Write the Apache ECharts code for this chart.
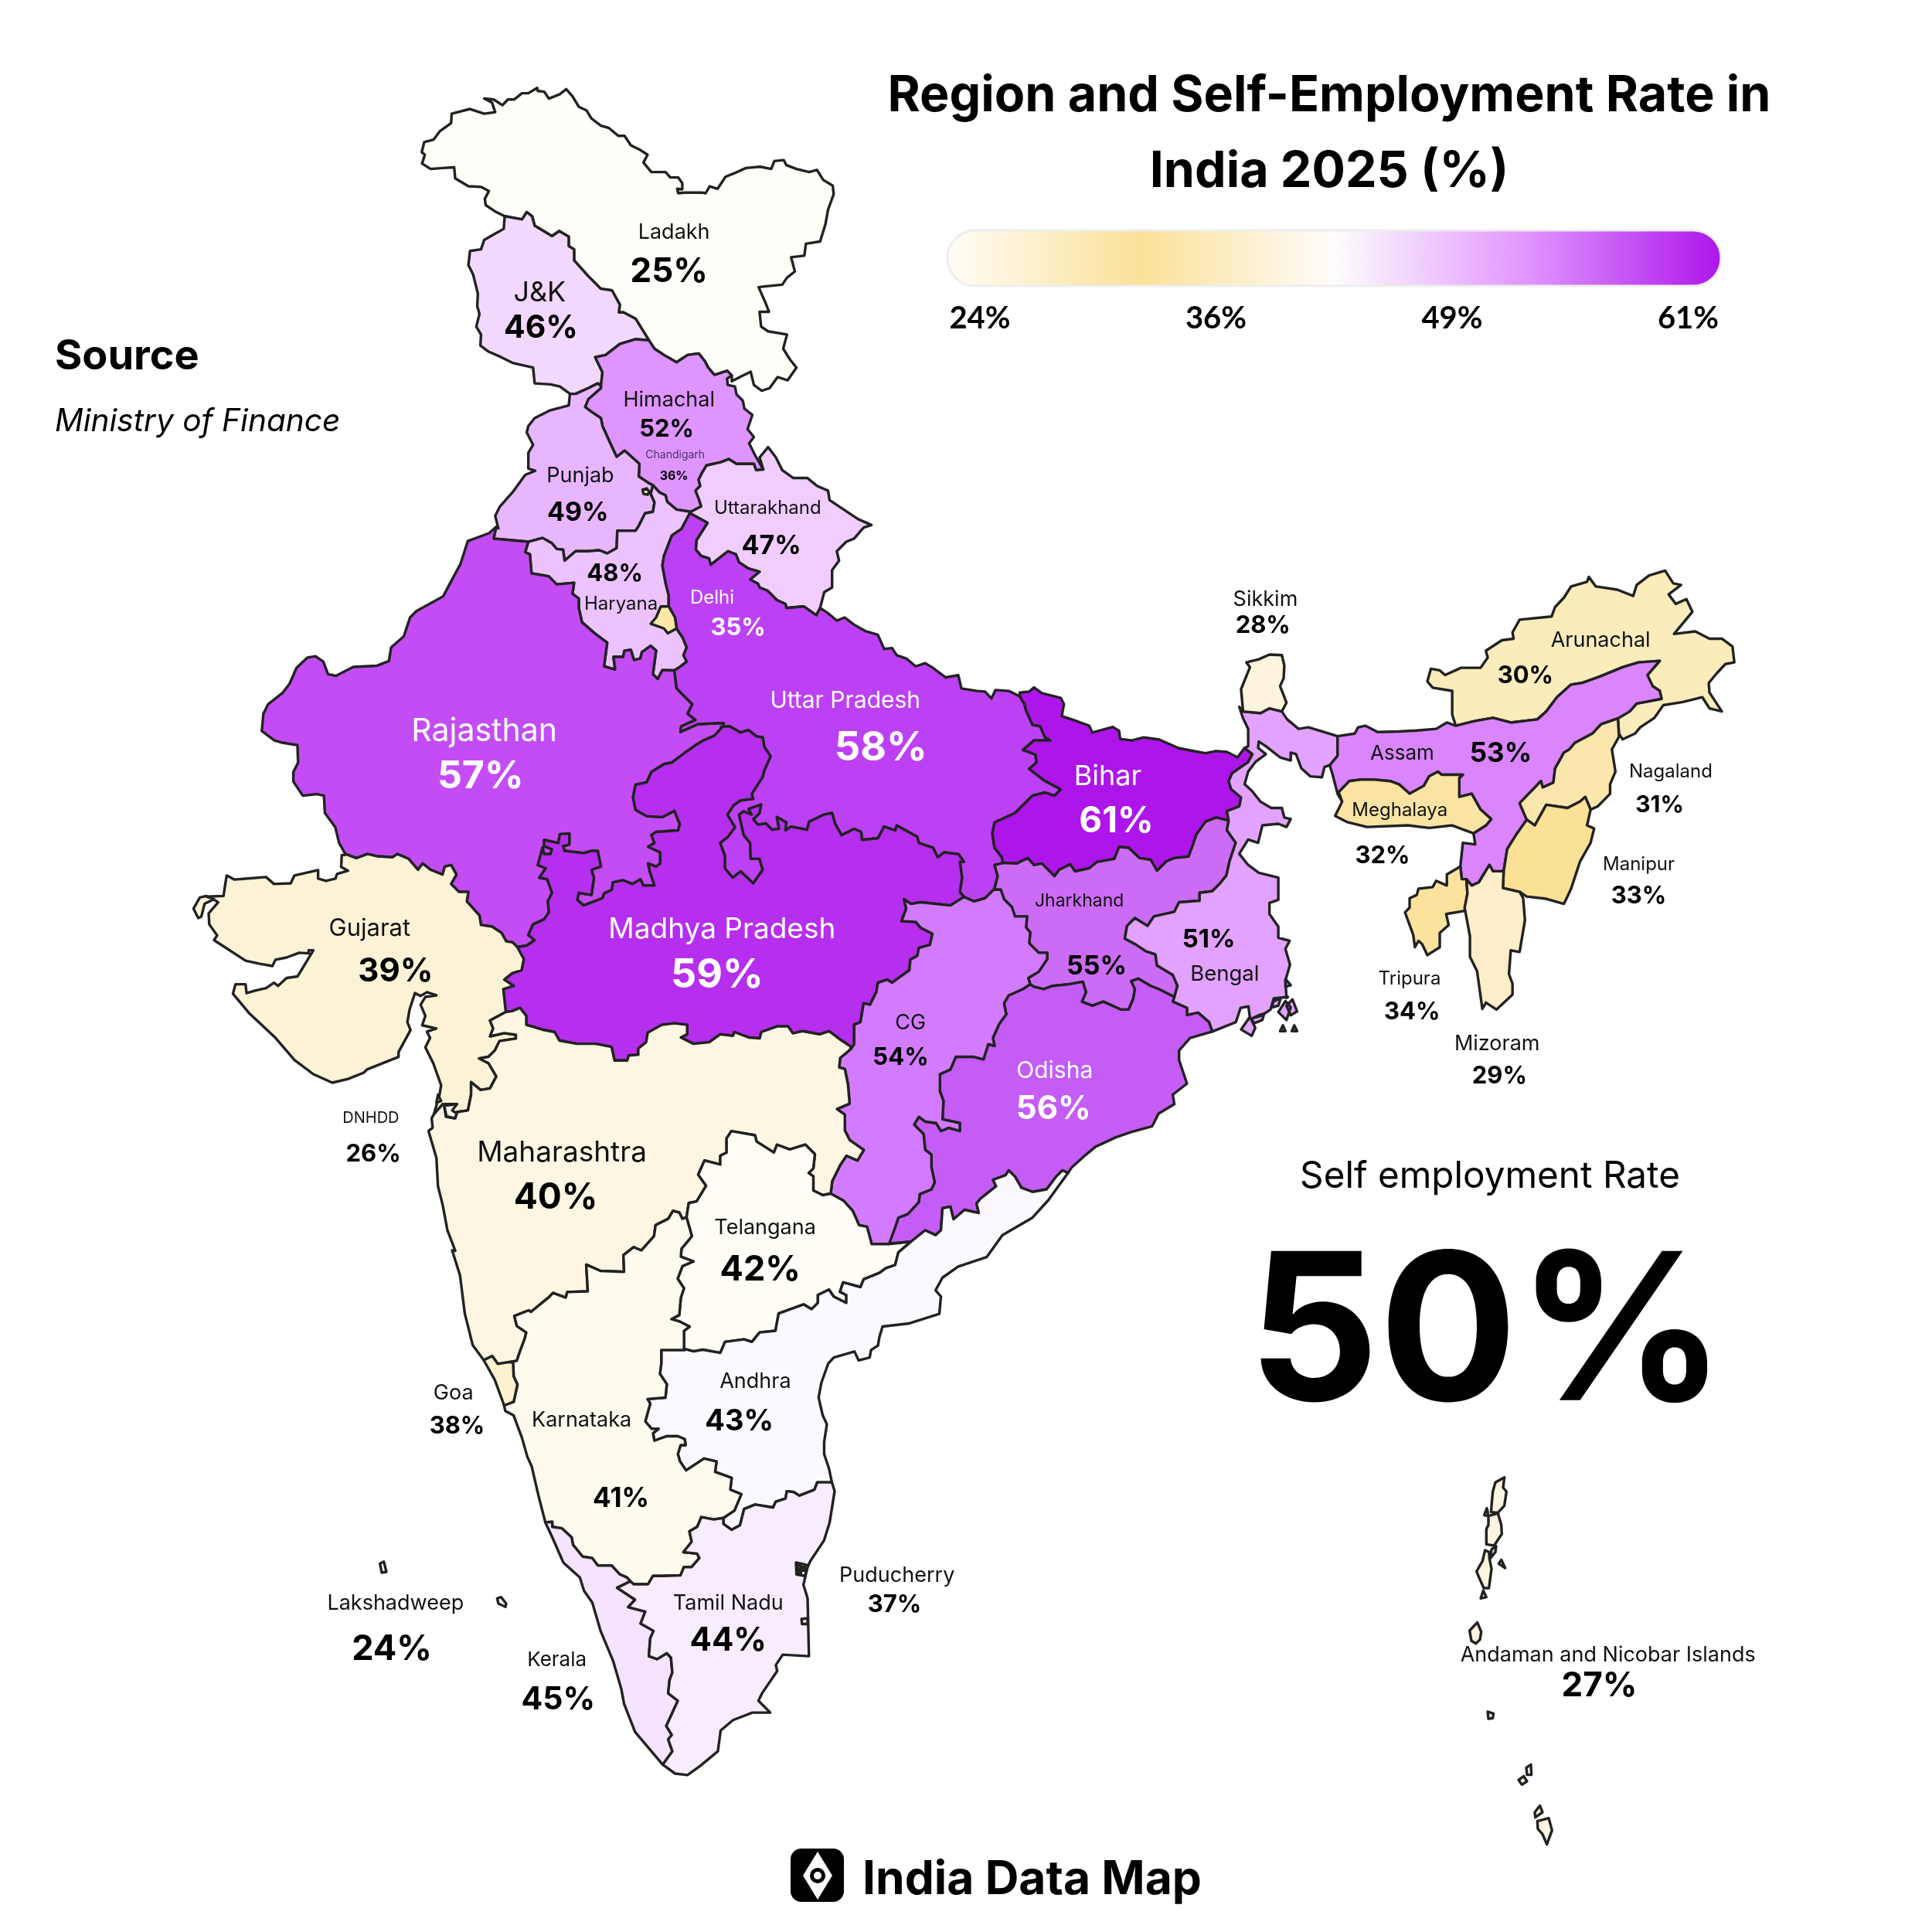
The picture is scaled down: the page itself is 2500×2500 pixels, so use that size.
<!DOCTYPE html>
<html lang="en">
<head>
<meta charset="UTF-8">
<title>Region and Self-Employment Rate in India 2025</title>
<script src="https://cdn.jsdelivr.net/npm/echarts@6/dist/echarts.min.js"></script>
<style>html,body{margin:0;background:#fff}#main{width:2500px;height:2500px}</style>
</head>
<body>
<div id="main"></div>
<script>
// values
const regions = ['Ladakh','J&K','Himachal','Chandigarh','Punjab','Uttarakhand','Haryana','Delhi','Rajasthan','Uttar Pradesh','Bihar','Madhya Pradesh','Gujarat','Jharkhand','Bengal','Odisha','CG','Maharashtra','Telangana','Andhra','Karnataka','Goa','Kerala','Tamil Nadu','Puducherry','Lakshadweep','DNHDD','Andaman and Nicobar Islands','Sikkim','Arunachal','Assam','Nagaland','Meghalaya','Manipur','Tripura','Mizoram'];
const rates = [25,46,52,36,49,47,48,35,57,58,61,59,39,55,51,56,54,40,42,43,41,38,45,44,37,24,26,27,28,30,53,31,32,33,34,29];
const legendTicks = [24,36,49,61];
const nationalRate = 50;

// colour for every whole percent from 24 to 61
const ramp = ['#fffefa','#fffdf7','#fefaf0','#fdf5df','#fcf4dc','#fdedc8','#fbecbc','#fbe7ae','#fbe4a3','#fbe196','#fbe29d','#fde6a6','#fce9b4','#fdedc2','#fdf1cf','#fcf2d6','#fdf6e2','#fefaee','#fffdf6','#fbf9ff','#f8edff','#f5e3ff','#f2d8ff','#f0ccff','#ecc3ff','#e8b6ff','#e6acff','#e3a2ff','#df95ff','#da85fd','#d37bfe','#cc6cf6','#c55cf6','#c34cf5','#bd41f4','#b62eee','#b122ec','#ad15ea'];
// the colour bar itself is a smoother five step ramp
const barRamp = ['#fffdf7','#fbe097','#fefdfb','#df95ff','#ad15ea'];

function crop(x0, y0, sx, sy) {
    return flat => {
        let pts = [];
        for (let k = 0; k < flat.length; k += 2) pts.push([x0 + flat[k] * sx, y0 + flat[k + 1] * sy]);
        return pts;
    };
}
const S = 640 / 1568;
const a = crop(500, 90, S, S), b = crop(300, 650, S, S), c = crop(840, 650, S, S);
const d = crop(1560, 720, 720 / 1568, 640 / 1563), e = crop(230, 1090, S, S), f = crop(1040, 1090, S, S);
const g = crop(530, 1320, S, S), h = crop(620, 1720, 560 / 1568, 600 / 1560);
const n = crop(1850, 1880, 1 / 3, 1 / 3), l = crop(230, 1700, 1 / 3, 1 / 3);
const rev = arc => arc.slice().reverse();

// shared borders
const ladakhOuter = a([375,465,345,450,315,430,312,410,325,385,300,372,260,370,218,345,215,310,180,312,140,315,113,298,122,270,112,262,120,230,150,222,170,195,205,170,207,140,265,125,310,140,345,135,335,105,310,92,340,95,368,113,385,95,405,95,430,75,450,75,478,58,480,68,500,70,515,92,550,78,570,62,590,85,610,118,635,130,650,155,680,178,705,185,735,210,755,210,775,240,805,255,828,270,815,295,840,325,885,325,900,342,925,342,938,360,938,380,922,378,925,392,945,390,1000,390,1012,392,1025,370,1050,378,1075,340,1100,330,1140,312,1185,308,1220,315,1230,290,1260,287,1268,303,1300,315,1340,325,1365,318,1385,350,1415,368,1418,395,1400,445,1392,490,1375,545,1330,552,1325,590,1283,595,1295,640,1270,660,1255,682,1205,687,1180,690,1200,735,1213,768,1183,768,1188,815,1210,830,1270,840,1258,885,1280,920,1300,945,1272,985,1240,975,1215,1010,1190,1018,1165,1000,1155,958,1130,970,1095,988]);
const hpLadakh = a([1095,970,1080,955,1040,968,1020,945,1010,925,990,900,955,905,920,928,880,905,850,885,832,858]);
const jkLadakh = a([832,858,790,790,752,770,737,770,740,745,715,700,680,695,640,655,595,605,595,570,578,560,578,530,548,512,525,528,470,495,462,465,445,452,430,475,375,465]);
const jkOuter = a([375,465,372,505,345,520,310,540,300,570,265,575,260,620,275,650,290,710,288,750,295,775,285,815,300,840,298,875,325,895,360,910,400,930,465,945,470,995,520,998,550,1005,582,1028]);
const jkPunjab = a([582,1028,600,1028,640,1010,670,995,680,1003]);
const jkHp = a([680,1003,685,960,662,912,695,905,740,870,790,855,832,858]);
const hpEast = a([1095,970,1080,980,1082,1000,1105,1005,1110,1030,1130,1050,1135,1075,1160,1095,1145,1140,1165,1165,1150,1185,1170,1225,1195,1268]);
const hpUk = a([1195,1268,1172,1270,1165,1250,1135,1250,1110,1250,1085,1235,1060,1245,1015,1255,1000,1280,990,1300,995,1320,980,1335,990,1360,998,1385,965,1402]);
const hpHar = a([965,1402,920,1395,890,1370,885,1350,865,1340,845,1318]);
const hpPunjab = a([845,1318,830,1310,800,1290,802,1250,755,1208,730,1228,710,1185,685,1130,680,1105,650,1085,630,1070,640,1045,680,1010,680,1003]);
const punjabWest = a([582,1028,578,1065,520,1080,470,1105,450,1130,445,1150,465,1190,450,1215,450,1265,472,1272,440,1285,400,1340,360,1385,345,1415,355,1455]);
const rajPunjab = b([838,78,830,115,940,125]);
const punjabHar = b([940,125,985,113,1015,130,1030,148,1050,150,1055,185,1090,155,1130,155,1165,152,1190,162,1220,145,1222,90,1280,90,1290,75,1310,35,1335,30,1340,0]).concat(a([838,1345,845,1318]));
const harUp = b([1450,38,1425,85,1395,105,1370,170,1365,200,1375,255,1385,295,1385,330,1405,365,1410,400,1430,430,1442,460,1432,485,1442,505,1420,522,1403,533]);
const harRaj = b([940,125,930,158,945,165,950,225,990,232,1005,235,1030,260,1085,255,1080,290,1100,305,1100,335,1110,380,1150,415,1190,445,1180,520,1215,530,1210,490,1240,490,1245,470,1265,468,1275,500,1295,495,1300,475,1328,455,1345,470,1335,545,1350,560,1365,532,1403,533]);
const rajOuter = b([360,1115,340,1080,328,1030,295,985,292,930,270,925,225,930,195,885,195,855,210,825,208,770,160,762,135,755,95,725,100,670,115,640,160,605,183,575,205,525,240,492,265,488,290,505,305,545,330,550,385,522,460,518,498,503,505,460,545,425,565,365,585,345,670,298,690,260,725,195,748,123,815,98,838,78]);
const rajUp = b([1403,533,1410,590,1430,610,1460,640,1445,670,1470,690,1425,710,1422,728,1478,703,1540,700,1560,700,1555,712]);
const rajMp = b([1555,712,1530,740,1495,755,1470,770,1435,795,1395,825,1370,830,1330,855,1315,888,1280,895,1272,935,1280,975,1315,995,1365,998,1403,978,1420,1020,1415,1040,1345,1045,1330,1055,1340,1080,1320,1092,1358,1110,1358,1145,1345,1155,1320,1145,1325,1170,1340,1215,1305,1215,1295,1195,1270,1210,1240,1198,1208,1205,1205,1228,1180,1240,1175,1255,1115,1278,1095,1260,1100,1238,1140,1245,1148,1190,1140,1165,1170,1155,1160,1105,1140,1105,1115,1112,1055,1105,1050,1090,1070,1085,1070,1050,1040,1052,1035,1080,990,1070,990,1090,1015,1100,1010,1115,990,1115,985,1095,970,1150,995,1160,975,1190,1000,1195,1015,1238,1002,1265,1005,1300,990,1322,955,1338,940,1372,960,1388,935,1405,905,1410]);
const rajGuj = b([905,1410,890,1395,870,1392,855,1365,825,1345,790,1340,785,1310,745,1265,750,1235,720,1235,695,1210,712,1180,695,1150,675,1155,668,1180,630,1165,605,1145,590,1165,560,1130,525,1115,510,1125,460,1122,430,1115,395,1128,360,1115]);
const ukOuter = a([1195,1268,1183,1230,1210,1197,1235,1230,1255,1270,1290,1295,1335,1295,1365,1320,1400,1335,1405,1365,1450,1395,1495,1425]).concat(c([705,72,680,80,650,115,625,125,595,155,602,185,580,215,580,270,555,285,542,335]));
const upUk = c([542,335,530,358,490,330,435,335,432,322,405,310,375,280,350,270,345,258,320,245,350,220,315,210,285,190,275,165,250,155,195,198,190,178,165,170,148,150,150,120,185,65,130,35]);
const upNorth = c([542,335,565,350,595,375,620,365,650,388,685,408,725,420,745,465,770,462,785,485,815,495,845,520,875,510,900,525,940,555,980,548,990,590,1040,598,1065,600,1085,622,1098,595,1140,598,1175,615]);
const upBihar = c([1175,615,1190,640,1195,660,1215,705,1240,710,1255,745,1272,755,1220,755,1185,785,1225,800,1228,825,1205,845,1250,880,1305,910,1285,930,1255,920,1215,930,1160,985,1095,1015,1088,1050,1095,1095,1118,1125,1122,1143]);
const upJhar = c([1122,1143,1095,1150,1105,1185,1095,1225]);
const upCg = c([1095,1225,1065,1255,1030,1265,1000,1252]);
const upMp = c([228,712,255,710,290,730,315,722,340,742,360,745,365,775,385,805,365,850,360,870,325,925,330,940,290,945,268,960,248,990,272,1030,250,1060,225,1080,240,1120,240,1160,265,1190,290,1170,330,1208,360,1165,350,1130,322,1130,320,1080,300,1055,285,990,300,980,325,990,315,972,355,958,350,985,330,1005,345,1022,370,1018,390,1038,412,1035,405,998,435,1015,432,1040,450,1028,500,1038,508,1012,555,990,580,985,590,1020,610,1055,650,1035,672,1045,675,1070,725,1065,745,1028,780,1040,785,1025,850,1060,855,1080,900,1095,915,1125,935,1110,980,1115,998,1140,985,1140,992,1190,985,1235,1000,1252]);
const biharNorth = c([1175,615,1175,603,1205,600,1220,587,1245,605,1305,620,1315,640,1308,678,1345,690,1395,708,1405,730,1470,712,1490,725,1493,750,1530,755,1568,745]).concat([[1500,957],[1525,968],[1545,972]], d([0,622,30,615,60,618,90,635,110,605]));
const biharWb = d([110,605,132,625,120,650,75,685,65,710,72,735,100,762,95,790,60,805,65,835]);
const biharJhar = c([1122,1143,1165,1145,1200,1128,1220,1150,1245,1145,1285,1185,1300,1165,1335,1148,1350,1170,1395,1160,1420,1140,1475,1130,1490,1092,1520,1095]).concat(f([1065,50,1100,55,1120,90,1150,60,1175,50,1220,45,1235,5,1245,-25]), d([0,838,30,825,65,835]));
const jharWb = d([65,835,60,865,85,905]).concat(f([1360,30,1350,60,1340,105,1320,130,1295,155,1255,160,1255,185,1190,190,1175,220,1110,235,1090,265,1050,240,1025,265,1018,305,1050,322,1085,345,1115,355,1120,390,1170,420,1185,455,1175,490]));
const jharOdisha = f([1175,490,1125,465,1100,455,1060,432,1038,440,1050,465,1045,495,1030,530,1005,530,950,505,915,518,882,505,895,475,885,442,840,450,790,455,760,465,730,458,718,450]);
const cgJhar = f([718,450,712,430,745,410,772,370,772,350,745,350,715,320,718,285,705,270,708,235,670,235,660,205,635,180,625,150,605,150]);
const wbOdisha = f([1175,490,1170,505,1215,525,1215,548,1250,540,1285,570,1295,600]);
const wbCoast = f([1295,600,1370,570,1385,525,1410,520,1415,560,1450,550,1480,530,1490,495,1535,490]).concat(d([228,1395,225,1340,238,1290,225,1240,237,1215,205,1205,205,1170,180,1130,180,1095,205,1085,205,1015,150,1000,120,975,95,940,120,895,148,905,160,850,205,845,228,855,240,830,222,825,215,795,185,795,155,775,130,740,110,720,120,680,140,650,170,625,148,605,150,585,170,600,210,635,240,645,240,620,255,625,270,670,295,695,328,698,335,665,350,660]));
const wbAssam = d([350,660,372,630,372,568]);
const wbNorth = d([372,568,335,555,290,540,262,545,230,515,215,490,180,480,155,495,105,490,95,475]);
const wbWest = d([95,475,105,510,120,545,120,600,110,605]);
const assamNorth = d([372,568,420,560,430,540,450,535,485,555,545,553,595,550,650,545,680,525,705,535]);
const assamAru = d([705,535,760,520,810,510,860,525,935,515,960,490,990,445,1030,405,1060,400,1110,380,1175,350,1220,335,1280,330,1245,375,1260,410,1280,425,1285,450,1215,465,1195,490,1162,512]);
const assamNag = d([1162,512,1115,530,1090,560,1040,590,1025,610,1010,620,985,670,980,715,950,730,945,710,885,780,905,832]);
const assamMan = d([905,832,875,880,850,925,840,995]);
const assamMiz = d([840,995,810,995,800,975,770,1030,750,1040,735,1020]);
const assamTri = d([735,1020,722,1020,718,980]);
const assamWest = d([718,980,725,905,760,910,755,875]);
const assamMeg = d([755,875,790,850,805,830,775,800,750,750,715,760,715,700,725,690,665,690,655,680,630,695,615,725,575,750,545,720,520,710,470,705,440,705,405,710,375,745,385,775]);
const assamWest2 = d([385,775,372,750,358,690,350,660]);
const nagMan = d([905,832,928,850,960,785,1020,795,1055,775,1070,760,1085,800]);
const gujMp = e([1076,332,1097,370,1090,405,1060,415,1035,435,1065,455,1032,465,1040,538]);
const gujMaha = e([1040,538,990,565,1000,590,990,615,1035,605,1072,610,1072,622,1020,630,1005,660,985,680,955,685,985,700,1010,742,990,780,960,785,930,760,930,800,920,850,885,855,880,875,850,870,845,835,885,830,840,830,812,862]);
const gujCoast = e([812,862,830,800,835,770,810,700,785,650,800,620,790,600,820,590,775,580,785,550,770,515,785,490,820,485,790,475,770,487,752,478,735,530,728,570,738,595,700,665,700,680,600,720,590,730,540,750,490,762,430,735,370,690,310,620,225,540,175,480,183,450,215,450,218,478,245,470,280,462,305,445,318,455,345,430,380,425,430,342,415,342,415,352,385,350,345,365,310,372,300,392,260,385,215,375,115,310,125,295,100,260,98,225,128,190,110,178,90,172,145,170,155,105,180,118,215,115,280,110,305,132,358,130,370,105,445,88,445,115,470,122,500,115,505,100,540,90,518,78,520,40,530,40]);
const mpMaha = g([1400,85,1370,65,1330,35,1300,45,1245,35,1215,42,1200,20,1165,20,1115,38,1110,58,1075,55,1030,38,1025,50,985,45,950,70,900,75,860,55,880,45,880,15,840,10,800,15,755,40,750,70,725,90,725,110,695,112,690,128,650,128,640,85,590,75,530,75,475,65,460,38,420,30,370,15]).concat(e([1105,550,1085,525,1060,535,1040,538]));
const mpCg = f([505,175,465,200,370,190,340,195,318,180,325,210,310,250,355,252,370,270,408,290,400,325,365,335,360,360,338,372,335,405,280,445,265,435,235,445,230,475,210,515,190,510,180,570,160,578,160,640,150,655]);
const mahaCoast = e([812,862,805,875,808,905,795,915,820,1000,825,1090,840,1150,855,1230,880,1295]).concat(g([135,730,160,810,175,930,200,1030,235,1078]));
const mahaGoa = g([235,1078,262,1065,280,1090,310,1085]);
const mahaKar = g([310,1085,340,1080,350,1050,365,1010,370,990,340,970,332,938,378,920,385,925,440,880,455,865,495,880,500,862,565,860,560,775,605,795,680,798,678,745,710,720,735,730,775,685,780,650,820,630,835,605,855,610,865,630,878,625]);
const mahaTel = g([878,625,885,580,910,575,940,525,915,490,935,445,985,458,985,430,1005,420,1005,375,1020,352,1095,365,1100,385,1155,420,1165,395,1205,410,1255,395,1285,425,1280,470,1265,485,1280,495,1280,540,1310,555,1335,550]);
const mahaCg = g([1335,550,1340,510,1365,460,1385,430,1420,445,1440,412,1395,380,1380,350,1380,300,1355,282,1395,265,1390,205,1380,155,1362,150,1365,120,1395,95,1400,85]);
const cgTel = g([1335,550,1375,572,1405,605,1425,650,1450,655,1465,710,1520,710]);
const cgOdisha = f([270,1272,290,1220,300,1190,330,1178,365,1140,368,1115,405,1100,415,1078,405,1030,405,990,385,975,380,925,350,895,365,870,385,885,420,890,435,915,460,905,495,915,495,890,440,878,443,820,432,790,432,735,465,720,482,680,540,680,570,688,585,640,605,645,600,620,620,575,642,545,635,510,650,485,695,465,718,450]);
const telOdisha = f([270,1272,340,1266]);
const odCoast = f([1295,600,1225,620,1190,660,1190,690,1215,765,1170,800,1175,830,1125,860,1105,900,1040,918,990,935,925,965,895,990,850,1030,838,1048]);
const odAp = f([838,1048,820,1040,800,1060,770,1100,725,1108,690,1095,670,1060,650,1040,640,1055,600,1070,610,1090,560,1130,548,1145,555,1175,510,1165,475,1195,465,1155,440,1160,435,1230,418,1245,385,1230,340,1266]);
const telAp = f([340,1266,300,1300,290,1340,260,1350,240,1365,190,1385,180,1410,125,1395,115,1425,135,1435,135,1460,95,1440,80,1418,45,1435,45,1460,25,1480,0,1465]).concat(g([1170,930,1160,985,1110,990,1085,1020,1060,1012,1000,1020,985,1055,930,1045,900,1050,870,1042]));
const telKar = g([870,1042,870,985,888,972,855,955,830,948,855,935,860,880,870,850,850,820,865,780,900,765,860,750,862,725,895,685,885,650,878,625]);
const apKar = h([745,70,660,70,660,115,655,150,680,185,675,230,610,235,620,250,602,310,625,335,650,335,630,350,635,375,680,360,720,360,745,370,748,390,730,390,720,420,728,445,750,475,815,435,860,445,855,480,915,500,910,540,950,555,925,610,885,635]);
const apTn = h([885,635,885,655,915,675,945,660,960,605,1000,590,1065,600,1075,580,1110,570,1115,545,1140,548,1160,560,1215,540,1225,515,1278,515]);
const apCoast = h([1278,515,1268,470,1250,420,1250,380,1260,320,1245,290,1230,230,1240,180,1265,115,1285,95,1360,75,1375,105,1415,95,1420,70,1445,55]).concat(f([240,1568,250,1535,335,1525,430,1495,435,1440,418,1420,440,1380,490,1345,580,1315,630,1245,725,1190,775,1135,838,1048]));
const karTn = h([885,635,850,640,805,632,790,665,762,680,770,715,740,750,790,755,798,770,770,800,742,800,730,828,665,830,630,830,612,858,560,858,548,848]);
const karKer = h([548,848,535,835,510,825,480,795,430,795,410,770,375,765,340,725,335,700,300,670,265,665,265,648,240,650]);
const karCoast = h([240,650,215,560,190,460,175,430,155,365,125,290,95,275,90,255]);
const goaKar = g([310,1085,328,1085,330,1130,342,1155,330,1210,300,1222]);
const kerCoast = h([240,650,265,700,305,785,365,835,380,880,410,920,440,1015,485,1115,515,1210,525,1260,565,1355,665,1465]);
const kerTn = h([665,1465,700,1420,685,1380,698,1365,678,1335,720,1250,685,1225,690,1180,700,1155,695,1105,680,1090,645,1110,615,1100,620,1040,632,1015,585,990,602,950,540,935,565,910,500,870,548,848]);
const tnCoast = h([1278,515,1288,545,1270,650,1250,710,1200,780,1190,800,1175,860,1190,905,1195,1100,1100,1095,1075,1130,1080,1150,1025,1225,1012,1250,1055,1290,990,1290,920,1315,875,1350,865,1420,800,1470,755,1500,710,1495,665,1465]);

// region outlines, each a list of rings
const shapes = {
    'Ladakh': [[ladakhOuter, hpLadakh, jkLadakh]],
    'J&K': [[jkOuter, jkPunjab, jkHp, jkLadakh]],
    'Himachal': [[hpEast, hpUk, hpHar, hpPunjab, jkHp, rev(hpLadakh)]],
    'Punjab': [[punjabWest, rajPunjab, punjabHar, hpPunjab, rev(jkPunjab)]],
    'Haryana': [[rev(hpHar), harUp, rev(harRaj), punjabHar]],
    'Uttarakhand': [[ukOuter, upUk, rev(hpUk)]],
    'Rajasthan': [[rajOuter, rajPunjab, harRaj, rajUp, rajMp, rajGuj]],
    'Uttar Pradesh': [[upNorth, upBihar, upJhar, upCg, rev(upMp), rev(rajUp), rev(harUp), rev(upUk)]],
    'Bihar': [[biharNorth, biharWb, rev(biharJhar), rev(upBihar)]],
    'Jharkhand': [[biharJhar, jharWb, jharOdisha, cgJhar, rev(upJhar)]],
    'Bengal': [[biharWb, jharWb, wbOdisha, wbCoast, wbAssam, wbNorth, wbWest],
        [d([100,1495,125,1455,140,1490,130,1515])], [d([225,1335,240,1355,225,1360])], [d([205,1440,225,1405,240,1425,228,1465])],
        [d([228,1420,245,1400,258,1438,240,1450])], [d([190,1408,212,1395,205,1420,188,1425])], [d([128,1462,150,1450,165,1445,160,1465,138,1475])],
        [d([210,1500,218,1482,225,1500])], [d([243,1500,250,1482,258,1500])]],
    'Madhya Pradesh': [[upMp, mpCg, mpMaha, rev(gujMp), rev(rajMp)]],
    'Gujarat': [[gujCoast, rev(rajGuj), gujMp, gujMaha], [e([50,210,70,175,90,170,115,180,85,195,75,235,65,240])]],
    'Maharashtra': [[mpMaha, gujMaha, mahaCoast, mahaGoa, mahaKar, mahaTel, mahaCg]],
    'CG': [[upCg, mpCg, rev(mahaCg), cgTel, cgOdisha, cgJhar]],
    'Odisha': [[cgOdisha, rev(jharOdisha), wbOdisha, odCoast, odAp, rev(telOdisha)]],
    'Telangana': [[telKar, mahaTel, cgTel, telOdisha, telAp]],
    'Andhra': [[telAp, apKar, apTn, apCoast, odAp]],
    'Karnataka': [[mahaKar, rev(telKar), apKar, karTn, karKer, karCoast, rev(goaKar)]],
    'Goa': [[mahaGoa, goaKar, g([270,1140,235,1078])]],
    'Kerala': [[kerCoast, kerTn, karKer]],
    'Tamil Nadu': [[apTn, tnCoast, kerTn, rev(karTn)]],
    'Delhi': [[b([1385,330,1360,330,1345,365,1328,385,1370,400,1382,415,1410,400,1405,365])]],
    'Chandigarh': [[a([812,1332,825,1328,833,1338,828,1348,815,1345])]],
    'Puducherry': [[h([1148,785,1175,790,1192,795,1180,830,1150,825])], [h([1155,795,1166,795,1166,806,1155,806])], [h([1170,800,1180,800,1178,812,1168,812])], [h([1155,812,1166,812,1166,822,1155,822])], [h([1168,975,1190,972,1190,992,1170,992])]],
    'DNHDD': [[e([845,835,885,830,870,850,885,860,878,875,852,868])], [e([825,800,835,820,820,825])]],
    'Lakshadweep': [[l([785,970,800,962,810,1002,792,1005])], [l([1240,1105,1255,1100,1275,1125,1272,1138,1245,1125])]],
    'Andaman and Nicobar Islands': [[n([290,95,255,115,245,150,238,230,265,232,290,205,298,150,285,135])],
        [n([228,245,265,235,278,280,280,315,250,360,220,355,220,295,228,280])], [n([240,375,258,362,255,385,235,410])],
        [n([215,378,230,385,232,410,240,450,230,525,210,525,190,480,182,460,205,420])], [n([208,535,220,560,198,565])],
        [n([222,215,228,245,212,242])], [n([278,415,293,447,268,430])], [n([185,658,200,695,195,725,180,740,162,730,155,690])],
        [n([225,1005,248,1012,245,1030,228,1032])], [n([345,1270,365,1255,378,1275,358,1288])], [n([375,1222,393,1210,395,1250,378,1250])],
        [n([408,1395,428,1370,438,1395,410,1415])], [n([418,1430,462,1418,475,1465,455,1520,438,1480,420,1460])]],
    'Sikkim': [[d([215,490,228,462,210,410,220,385,222,345,215,312,180,310,150,325,115,335,125,350,100,420,105,480,105,490,155,495,180,480])]],
    'Arunachal': [[d([705,535,695,500,695,425,640,415,625,395,635,355,660,360,675,375,720,352,775,352,795,320,790,298,835,265,868,260,865,240,885,200,975,190,985,160,1010,130,1030,95,1075,80,1080,65,1100,95,1160,105,1205,125,1215,90,1250,60,1295,45,1318,85,1340,90,1305,120,1325,150,1355,135,1372,175,1335,225,1320,245,1380,237,1420,260,1455,260,1485,285,1490,335,1465,340,1440,370,1418,400,1420,430,1455,490,1420,480,1400,445,1345,460,1290,470,1265,510,1225,540,1210,560,1175,578,1165,560,1162,512]), rev(assamAru)]],
    'Assam': [[assamNorth, assamAru, assamNag, assamMan, assamMiz, assamTri, assamWest, assamMeg, assamWest2, wbAssam]],
    'Nagaland': [[d([1162,512,1165,570,1145,610,1155,680,1140,720,1140,750,1105,790,1085,800]), rev(nagMan), rev(assamNag)]],
    'Meghalaya': [[assamMeg, d([365,820,400,840,455,855,570,850,630,858,695,850])]],
    'Mizoram': [[rev(assamMiz), d([838,1048,885,1060,895,1080,900,1150,885,1250,860,1245,855,1320,865,1350,865,1385,820,1432,790,1410,780,1430,765,1310,745,1265,745,1200,730,1110,738,1065])]],
    'Manipur': [[nagMan, d([1075,850,1095,860,1085,905,1055,965,1030,1050,1010,1098,960,1082,905,1075,885,1060,838,1048]), rev(assamMan)]],
    'Tripura': [[d([718,980,680,1005,680,1040,650,1025,640,1045,600,1050,595,1070,575,1080,575,1110,562,1125,585,1195,590,1235,600,1215,610,1225,625,1260,660,1235,660,1190,685,1165,678,1130,730,1120,738,1065,735,1020]), assamTri]]
};

const features = regions.map(name => {
    let rings = shapes[name].map(parts => {
        let ring = [].concat(...parts);
        ring.push(ring[0]);
        return [ring];
    });
    return {type: 'Feature', properties: {name: name}, geometry: {type: 'MultiPolygon', coordinates: rings}};
});
// enclosed little regions last so they sit above their neighbours
const onTop = ['Delhi','Chandigarh','Puducherry','DNHDD','Goa'];
features.sort((p, q) => onTop.includes(p.properties.name) - onTop.includes(q.properties.name));
echarts.registerMap('india', {type: 'FeatureCollection', features: features});

// label placement: name x, y, size, value x, y, size (on the 1568 wide picture, sizes in final px)
const labelPlace = {
    'Ladakh':[547,187,27,543,219,44],'J&K':[438,236,36,439,265,41],'Himachal':[543,323,27,541,347,31],'Chandigarh':[548,368,14,547,385,16],
    'Punjab':[471,385,27,469,415,34],'Uttarakhand':[623,411,24,626,442,34],'Haryana':[504,489,24,499,464,31],'Delhi':[578,484,24,599,508,31],
    'Rajasthan':[393,592,41,390,629,50],'Uttar Pradesh':[686,567,30,715,606,52],'Bihar':[899,629,36,906,665,46],'Madhya Pradesh':[586,753,37,582,790,52],
    'Gujarat':[300,752,31,321,787,42],'Jharkhand':[876,730,23,890,783,34],'Bengal':[994,789,27.5,981,761,33],'Odisha':[856,868,30,855,899,42],
    'CG':[739,829,27,731,857,31],'Maharashtra':[456,934,37,451,971,46],'Telangana':[621,995,27,617,1029,45],'Andhra':[613,1120,27,600,1152,38],
    'Karnataka':[472,1151,27,504,1215,35],'Goa':[368,1129,27,371,1156,31],'Kerala':[452,1346,26,453,1378,41],'Tamil Nadu':[591,1300,27,591,1330,42],
    'Puducherry':[728,1277,27,726,1301,31],'Lakshadweep':[321,1300,27,318,1337,45],'DNHDD':[301,906,20,303,935,31],
    'Andaman and Nicobar Islands':[1305,1342,27,1298,1367,44],'Sikkim':[1027,485,27,1025,506,31],'Arunachal':[1299,518,27,1238,547,31],
    'Assam':[1138,610,26,1218,610,35],'Nagaland':[1356,625,24,1347,652,30],'Meghalaya':[1136,656,24,1122,693,31],'Manipur':[1330,700,24,1330,726,31],
    'Tripura':[1144,793,24,1146,820,31],'Mizoram':[1215,846,27,1217,872,31]
};
const k = 2500 / 1568;
const labelDrop = 2.5;
const whiteLabels = ['Delhi','Rajasthan','Uttar Pradesh','Bihar','Madhya Pradesh','Odisha'];

const nameLabels = regions.map(r => {
    let p = labelPlace[r];
    return {name: r, value: [p[0] * k, p[1] * k + labelDrop], label: {formatter: r, fontSize: p[2],
        color: whiteLabels.includes(r) ? '#fff' : (r === 'Chandigarh' ? '#52306e' : '#111')}};
});
const valueLabels = regions.map((r, i) => {
    let p = labelPlace[r];
    return {name: r, value: [p[3] * k, p[4] * k + labelDrop], label: {formatter: rates[i] + '%', fontSize: p[5],
        color: whiteLabels.includes(r) ? '#fff' : '#000'}};
});

const barStops = barRamp.map((col, i) => ({offset: i / (barRamp.length - 1), color: col}));
const barLeft = 1226, barWidth = 1001;

let myChart = echarts.init(document.getElementById('main'));
myChart.setOption({
    animation: false,
    backgroundColor: '#fff',
    title: [
        {text: 'Region and Self-Employment Rate in\nIndia 2025 (%)', left: 1715, top: 71, textAlign: 'center',
            textStyle: {fontFamily: 'Inter', fontWeight: 700, fontSize: 64.5, lineHeight: 98, color: '#000'}},
        {text: 'Source', left: 66, top: 430, textStyle: {fontFamily: 'Inter', fontWeight: 700, fontSize: 54, color: '#000'}},
        {text: 'Ministry of Finance', left: 66, top: 520, textStyle: {fontFamily: 'Inter', fontWeight: 400, fontStyle: 'italic', fontSize: 40.6, color: '#000'}},
        {text: 'Self employment Rate', left: 1923, top: 1494, textAlign: 'center', textStyle: {fontFamily: 'Inter', fontWeight: 400, fontSize: 47.6, color: '#000'}},
        {text: nationalRate + '%', left: 1919, top: 1594, textAlign: 'center', textStyle: {fontFamily: 'Inter', fontWeight: 700, fontSize: 265.5, color: '#000'}},
        {text: 'India Data Map', left: 1111, top: 2397, textStyle: {fontFamily: 'Inter', fontWeight: 700, fontSize: 60.5, color: '#000'}}
    ],
    visualMap: {show: false, seriesIndex: 0, min: 24, max: 61, inRange: {color: ramp}},
    geo: {
        map: 'india',
        projection: {project: p => p, unproject: p => p},
        boundingCoords: [[0, 0], [2500, 2500]],
        layoutCenter: ['50%', '50%'],
        layoutSize: 2500,
        aspectScale: 1,
        roam: false,
        silent: true,
        label: {show: false},
        itemStyle: {borderColor: '#222', borderWidth: 3.4, areaColor: '#fff', borderJoin: 'round'},
        emphasis: {disabled: true}
    },
    series: [
        {type: 'map', geoIndex: 0, data: regions.map((r, i) => ({name: r, value: rates[i]})), silent: true},
        {type: 'scatter', coordinateSystem: 'geo', symbolSize: 0, silent: true, itemStyle: {opacity: 1}, data: nameLabels,
            label: {show: true, position: 'inside', fontFamily: 'Inter', fontWeight: 400}},
        {type: 'scatter', coordinateSystem: 'geo', symbolSize: 0, silent: true, itemStyle: {opacity: 1}, data: valueLabels,
            label: {show: true, position: 'inside', fontFamily: 'Inter', fontWeight: 700}}
    ],
    graphic: [
        {type: 'rect', shape: {x: barLeft, y: 298, width: barWidth, height: 72, r: 36},
            style: {fill: new echarts.graphic.LinearGradient(0, 0, 1, 0, barStops), stroke: '#eeeeee', lineWidth: 3}},
        ...legendTicks.map((t, i) => ({type: 'text', x: barLeft + 42 + i * 305.5, y: 412,
            style: {text: t + '%', fontFamily: 'Lato', fontWeight: 700, fontSize: 40, fill: '#000', align: 'center', verticalAlign: 'middle'}})),
        {type: 'rect', shape: {x: 1023, y: 2392, width: 69, height: 69, r: 14}, style: {fill: '#000'}},
        {type: 'polygon', shape: {points: [[1058, 2396], [1077, 2427], [1058, 2458], [1039, 2427]]}, style: {fill: '#fff'}},
        {type: 'circle', shape: {cx: 1058, cy: 2427, r: 10}, style: {fill: '#000'}},
        {type: 'circle', shape: {cx: 1058, cy: 2427, r: 5}, style: {fill: '#fff'}}
    ]
});
</script>
</body>
</html>
